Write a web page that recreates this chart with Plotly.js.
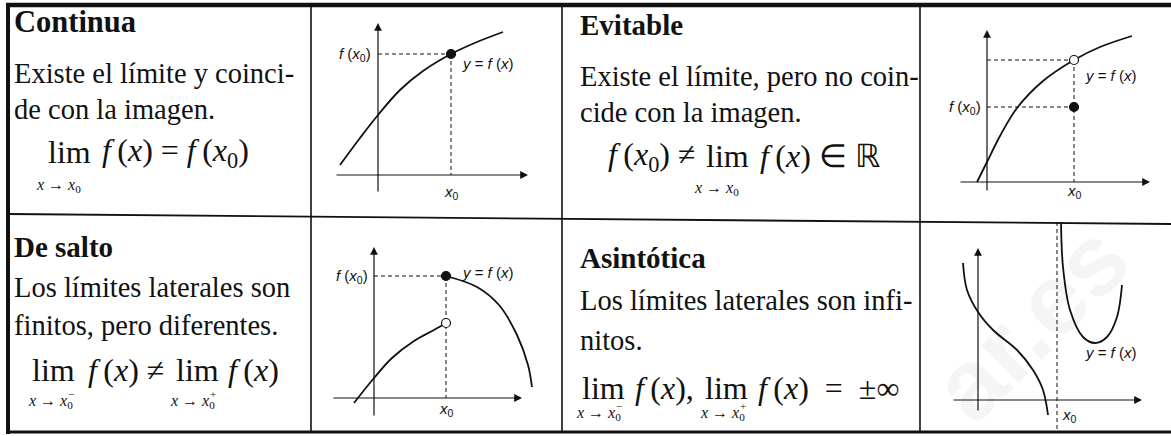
<!DOCTYPE html>
<html>
<head>
<meta charset="utf-8">
<script src="https://cdn.plot.ly/plotly-3.0.1.min.js"></script>
<style>
    html, body { margin: 0; padding: 0; background: #fff; }
    #chart { width: 1171px; height: 436px; }
</style>
</head>
<body>
<div id="chart"></div>
<script>
// Curve samples, in graph units (origin = axes crossing, y up)
let continua_x = [-38, -18, 0, 22, 45, 73, 99, 125];
let continua_y = [10, 37, 60, 85, 104, 121, 133, 143];
let continua_x0 = 73, continua_fx0 = 121;

let evitable_x = [-10, 0, 13, 30, 56, 87, 113, 145];
let evitable_y = [0, 20, 46, 74, 101, 122, 135, 146];
let evitable_x0 = 87, evitable_lim = 122, evitable_fx0 = 75;

let salto_left_x = [-20, 0, 18, 40, 60, 72];
let salto_left_y = [-5, 20, 40, 57, 68, 75];
let salto_right_x = [72, 103, 125, 143, 154, 158];
let salto_right_y = [122, 111, 93, 63, 33, 11];
let salto_x0 = 72, salto_fx0 = 122, salto_lim_left = 75;

let asint_left_x = [-15, -11, 0, 15, 39, 55, 65, 70];
let asint_left_y = [137, 110, 88, 70, 50, 30, 10, -15];
let asint_right_x = [83, 85, 92, 105, 117, 129, 139, 144];
let asint_right_y = [178, 133, 90, 63, 57, 63, 83, 115];
let asint_x0 = 79;

// Axis extents per graph: [x_from, x_to, y_from, y_to]
let axis_extents = [
    [-43, 150, -18, 152],
    [-28, 163, -10, 152],
    [-42, 148, -19, 151],
    [-26, 164, -12, 152],
];

let titles = ['Continua', 'Evitable', 'De salto', 'Asintótica'];
let body_lines = [
    ['Existe el límite y coinci-', 'de con la imagen.'],
    ['Existe el límite, pero no coin-', 'cide con la imagen.'],
    ['Los límites laterales son', 'finitos, pero diferentes.'],
    ['Los límites laterales son infi-', 'nitos.'],
];

let W = 1171, H = 436;
let px = x => x / W;
let py = y => 1 - y / H;
let ink = '#111';
let serif = 'Liberation Serif, Times New Roman, serif';
let sans = 'Liberation Sans, Arial, sans-serif';

// graph cells [x1, y1, x2, y2] and origin [ox, oy], in pixels
let cells = [
    { rect: [313, 8, 560, 212], origin: [378, 175] },
    { rect: [922, 8, 1171, 220], origin: [987, 182] },
    { rect: [313, 216, 560, 430], origin: [374, 398] },
    { rect: [922, 222, 1171, 430], origin: [978, 400] },
];

let layout = {
    width: W, height: H,
    margin: { l: 0, r: 0, t: 0, b: 0 },
    paper_bgcolor: '#fff', plot_bgcolor: 'rgba(0,0,0,0)',
    showlegend: false,
    shapes: [], annotations: [],
};

// watermark first, so the rest is drawn over it
layout.annotations.push({ xref: 'paper', yref: 'paper', x: px(1030), y: py(322), xanchor: 'center', yanchor: 'middle',
    text: '<b>ar.es</b>', showarrow: false, textangle: -45,
    font: { family: sans, size: 100, color: 'rgba(0,0,0,0.04)' } });

let hidden_axis = { showgrid: false, zeroline: false, showticklabels: false, ticks: '', showline: false, fixedrange: true };

cells.forEach((cell, i) => {
    let n = i == 0 ? '' : String(i + 1);
    let [x1, y1, x2, y2] = cell.rect, [ox, oy] = cell.origin;
    layout['xaxis' + n] = Object.assign({ domain: [px(x1), px(x2)], range: [x1 - ox, x2 - ox], anchor: 'y' + n }, hidden_axis);
    layout['yaxis' + n] = Object.assign({ domain: [py(y2), py(y1)], range: [oy - y2, oy - y1], anchor: 'x' + n }, hidden_axis);

    // axes with arrow heads
    let [ax0, ax1, ay0, ay1] = axis_extents[i];
    let arrow = { xref: 'x' + n, yref: 'y' + n, axref: 'x' + n, ayref: 'y' + n, text: '', showarrow: true,
        arrowhead: 2, arrowsize: 1.3, arrowwidth: 1.2, arrowcolor: ink, standoff: 0, startstandoff: 0 };
    layout.annotations.push(Object.assign({ x: ax1, y: 0, ax: ax0, ay: 0 }, arrow));
    layout.annotations.push(Object.assign({ x: 0, y: ay1, ax: 0, ay: ay0 }, arrow));
});

// table lines
let line = (x0, y0, x1, y1, w) => ({ type: 'line', xref: 'paper', yref: 'paper',
    x0: px(x0), y0: py(y0), x1: px(x1), y1: py(y1), line: { color: ink, width: w } });
layout.shapes.push(
    line(6, 5, 1171, 5, 4.5),
    line(8, 3, 8, 434, 4),
    line(6, 432, 1171, 432, 3),
    line(8, 214, 1171, 224, 1.8),
    line(311, 5, 311, 432, 1.6),
    line(562, 5, 562, 432, 1.6),
    line(920, 5, 920, 432, 1.6),
);

let text = (x, y, str, size, opts) => Object.assign({ xref: 'paper', yref: 'paper', x: px(x), y: py(y),
    text: str, showarrow: false, xanchor: 'left', yanchor: 'middle',
    font: { family: serif, size: size, color: ink } }, opts || {});

// titles and body text
let text_pos = [
    { x: 12, ys: [22, 73, 109] },
    { x: 578, ys: [25, 76, 113] },
    { x: 12, ys: [247, 287, 325] },
    { x: 578, ys: [258, 300, 340] },
];
text_pos.forEach((p, i) => {
    layout.annotations.push(text(p.x, p.ys[0], '<b>' + titles[i] + '</b>', i == 0 ? 30.5 : 29));
    layout.annotations.push(text(p.x, p.ys[1], body_lines[i][0], 28.5));
    layout.annotations.push(text(p.x, p.ys[2], body_lines[i][1], 28.5));
});

// formulas
let th = '\u2009';
let fx = '<i>f</i>' + th + '(<i>x</i>)';
let fx0 = '<i>f</i>' + th + '(<i>x</i><sub>0</sub>)';
let to_x0 = '<i>x</i> → <i>x</i><sub>0</sub>';
let sub_size = 16, f_size = 32;
let sign = (x, y, s) => text(x, y, s, 11);
layout.annotations.push(
    text(46, 152, 'lim', f_size),
    text(34, 185, to_x0, sub_size),
    text(100, 152, fx + '&nbsp;=&nbsp;' + fx0, f_size),

    text(606, 156, fx0 + ' ≠', f_size),
    text(704, 156, 'lim', f_size),
    text(692, 188, to_x0, sub_size),
    text(758, 156, fx + ' ∈ ℝ', f_size),

    text(30, 370, 'lim', f_size),
    text(26, 401, to_x0, sub_size),
    sign(66, 394, '−'),
    text(86, 370, fx + ' ≠', f_size),
    text(174, 370, 'lim', f_size),
    text(168, 401, to_x0, sub_size),
    sign(208, 394, '+'),
    text(226, 370, fx, f_size),

    text(580, 388, 'lim', f_size),
    text(574, 413, to_x0, sub_size),
    sign(614, 406, '−'),
    text(633, 388, fx + ',', f_size),
    text(703, 388, 'lim', f_size),
    text(698, 413, to_x0, sub_size),
    sign(738, 406, '+'),
    text(756, 388, fx + '&nbsp;&nbsp;=&nbsp;&nbsp;±∞', f_size),
);

// graph labels
let label = (n, x, y, str, anchor) => ({ xref: 'x' + n, yref: 'y' + n, x: x, y: y, text: str, showarrow: false,
    xanchor: anchor, yanchor: 'middle', font: { family: sans, size: 15, color: ink } });
let lbl_fx0 = '<i>f</i> (<i>x</i><sub>0</sub>)';
let lbl_y = '<i>y</i> = <i>f</i> (<i>x</i>)';
let lbl_x0 = '<i>x</i><sub>0</sub>';
layout.annotations.push(
    label('', -5, continua_fx0, lbl_fx0, 'right'),
    label('', 82, continua_fx0 - 9, lbl_y, 'left'),
    label('', continua_x0, -17, lbl_x0, 'center'),

    label('2', -4, evitable_fx0, lbl_fx0, 'right'),
    label('2', 96, evitable_lim - 15, lbl_y, 'left'),
    label('2', evitable_x0, -9, lbl_x0, 'center'),

    label('3', -4, salto_fx0, lbl_fx0, 'right'),
    label('3', 86, salto_fx0 + 4, lbl_y, 'left'),
    label('3', salto_x0, -11, lbl_x0, 'center'),

    label('4', 105, 48, lbl_y, 'left'),
    label('4', asint_x0 + 3, -15, lbl_x0, 'left'),
);

// traces
let curve = (x, y, n) => ({ x: x, y: y, xaxis: 'x' + n, yaxis: 'y' + n, mode: 'lines', hoverinfo: 'skip',
    line: { color: ink, width: 1.8, shape: 'spline', smoothing: 1 } });
let dashed = (x, y, n) => ({ x: x, y: y, xaxis: 'x' + n, yaxis: 'y' + n, mode: 'lines', hoverinfo: 'skip',
    line: { color: ink, width: 1, dash: '4px,3px' } });
let dot = (x, y, n, open) => ({ x: [x], y: [y], xaxis: 'x' + n, yaxis: 'y' + n, mode: 'markers', hoverinfo: 'skip',
    marker: { size: 9, color: open ? '#fff' : ink, line: { color: ink, width: 1.2 } } });

let traces = [
    curve(continua_x, continua_y, ''),
    dashed([0, continua_x0], [continua_fx0, continua_fx0], ''),
    dashed([continua_x0, continua_x0], [continua_fx0, 0], ''),
    dot(continua_x0, continua_fx0, ''),

    curve(evitable_x, evitable_y, '2'),
    dashed([0, evitable_x0], [evitable_lim, evitable_lim], '2'),
    dashed([0, evitable_x0], [evitable_fx0, evitable_fx0], '2'),
    dashed([evitable_x0, evitable_x0], [evitable_lim, 0], '2'),
    dot(evitable_x0, evitable_lim, '2', true),
    dot(evitable_x0, evitable_fx0, '2'),

    curve(salto_left_x, salto_left_y, '3'),
    curve(salto_right_x, salto_right_y, '3'),
    dashed([0, salto_x0], [salto_fx0, salto_fx0], '3'),
    dashed([salto_x0, salto_x0], [salto_fx0, 0], '3'),
    dot(salto_x0, salto_fx0, '3'),
    dot(salto_x0, salto_lim_left, '3', true),

    curve(asint_left_x, asint_left_y, '4'),
    curve(asint_right_x, asint_right_y, '4'),
    dashed([asint_x0, asint_x0], [178, -30], '4'),
];

Plotly.newPlot('chart', traces, layout, { displayModeBar: false, staticPlot: true });
</script>
</body>
</html>
